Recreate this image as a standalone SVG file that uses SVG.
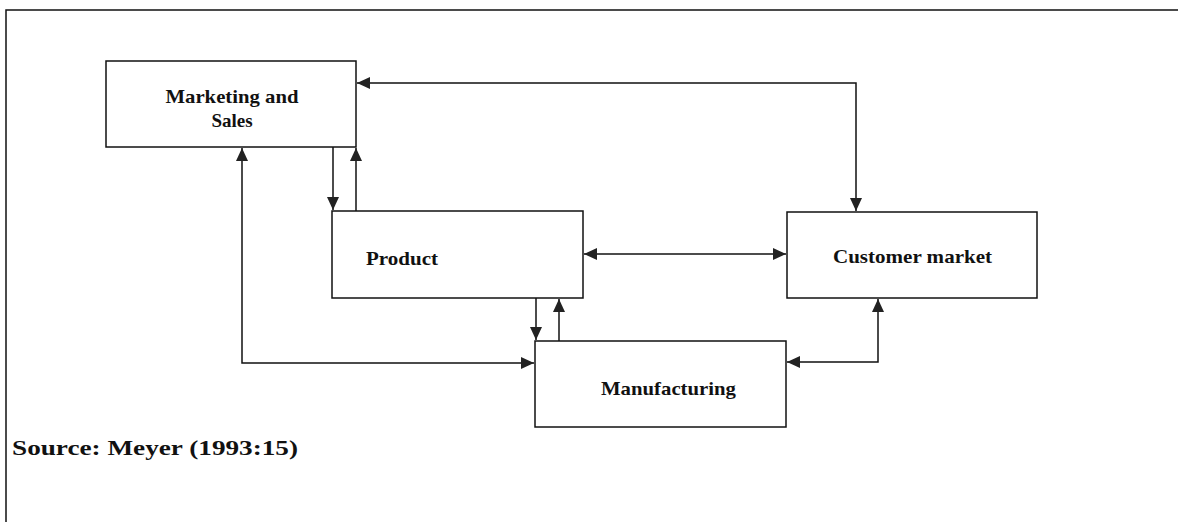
<svg xmlns="http://www.w3.org/2000/svg" width="1178" height="522" viewBox="0 0 1178 522">
<style>
.box{fill:#fff;stroke:#111;stroke-width:1.5}
.ln{fill:none;stroke:#111;stroke-width:1.5}
.t{font-family:"Liberation Serif","Times New Roman",serif;font-weight:bold;font-size:19px;fill:#111}
.src{font-family:"Liberation Serif","Times New Roman",serif;font-weight:bold;font-size:22px;fill:#111}
</style>
<defs>
<marker id="ah" markerUnits="userSpaceOnUse" markerWidth="14" markerHeight="12" viewBox="0 0 14 12" refX="13" refY="6" orient="auto-start-reverse">
<path d="M0,0 L13,6 L0,12 z" fill="#222"/>
</marker>
</defs>
<rect width="1178" height="522" fill="#fff"/>
<g id="frame"><path class="ln" d="M6,522 V10 H1178"/></g>
<g id="connectors">
<path class="ln" d="M856,211 V83 H357" marker-start="url(#ah)" marker-end="url(#ah)"/>
<path class="ln" d="M333,147 V210" marker-end="url(#ah)"/>
<path class="ln" d="M356,211 V148" marker-end="url(#ah)"/>
<path class="ln" d="M242,148 V363 H534" marker-start="url(#ah)" marker-end="url(#ah)"/>
<path class="ln" d="M584,254 H786" marker-start="url(#ah)" marker-end="url(#ah)"/>
<path class="ln" d="M536,298 V340" marker-end="url(#ah)"/>
<path class="ln" d="M559,341 V299" marker-end="url(#ah)"/>
<path class="ln" d="M878,299 V362 H787" marker-start="url(#ah)" marker-end="url(#ah)"/>
</g>
<g id="marketing">
<rect class="box" x="106" y="61" width="250" height="86"/>
<text class="t" x="232" y="103" text-anchor="middle" textLength="133" lengthAdjust="spacingAndGlyphs">Marketing and</text>
<text class="t" x="232" y="127" text-anchor="middle">Sales</text>
</g>
<g id="product">
<rect class="box" x="332" y="211" width="251" height="87"/>
<text class="t" x="366" y="265" textLength="72" lengthAdjust="spacingAndGlyphs">Product</text>
</g>
<g id="customer">
<rect class="box" x="787" y="212" width="250" height="86"/>
<text class="t" x="833" y="263" textLength="159" lengthAdjust="spacingAndGlyphs">Customer market</text>
</g>
<g id="manufacturing">
<rect class="box" x="535" y="341" width="251" height="86"/>
<text class="t" x="601" y="395" textLength="135" lengthAdjust="spacingAndGlyphs">Manufacturing</text>
</g>
<text class="src" x="12" y="455" textLength="286" lengthAdjust="spacingAndGlyphs">Source: Meyer (1993:15)</text>
</svg>
